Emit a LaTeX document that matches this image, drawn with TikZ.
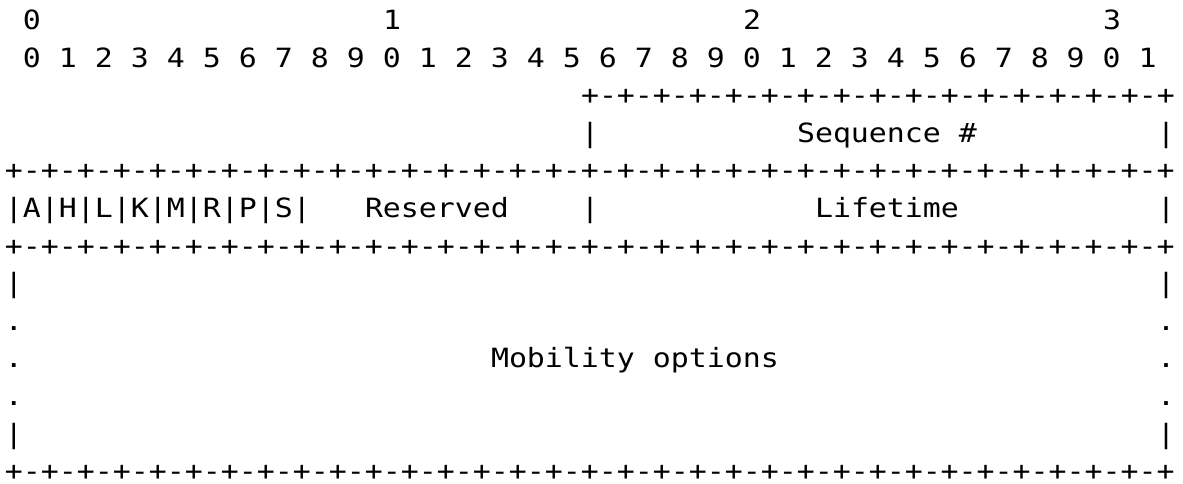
\documentclass[tikz,border=0pt]{standalone}
\usepackage{fontspec}
\newfontfamily\rfcmono[FakeStretch=1.128]{DejaVu Sans Mono}
\def\rfcpp{+-+-+-+-+-+-+-+-}
\tikzset{cell/.style={anchor=base west, inner sep=0pt, outer sep=0pt,
  font=\rfcmono\fontsize{26.5pt}{30pt}\selectfont, text=black}}
\begin{document}
\begin{tikzpicture}
\useasboundingbox[fill=white] (0,0) rectangle (1183pt,-483pt);
\begin{scope}[shift={(5pt,-29.5pt)}, x=18pt, y=-37.6pt]
% row 0
\node[cell] (h0) at (1,0) {0};
\node[cell] (h1) at (21,0) {1};
\node[cell] (h2) at (41,0) {2};
\node[cell] (h3) at (61,0) {3};
% row 1
\node[cell] (bits) at (1,1) {0 1 2 3 4 5 6 7 8 9 0 1 2 3 4 5 6 7 8 9 0 1 2 3 4 5 6 7 8 9 0 1};
% row 2
\node[cell] (r2) at (32,2) {\rfcpp\rfcpp+};
% row 3
\node[cell] (r3a) at (32,3) {|};
\node[cell] (seq) at (44,3) {Sequence \#};
\node[cell] (r3b) at (64,3) {|};
% row 4
\node[cell] (r4) at (0,4) {\rfcpp\rfcpp\rfcpp\rfcpp+};
% row 5
\node[cell] (flags) at (0,5) {|A|H|L|K|M|R|P|S|};
\node[cell] (res) at (20,5) {Reserved};
\node[cell] (r5a) at (32,5) {|};
\node[cell] (life) at (45,5) {Lifetime};
\node[cell] (r5b) at (64,5) {|};
% row 6
\node[cell] (r6) at (0,6) {\rfcpp\rfcpp\rfcpp\rfcpp+};
% row 7
\node[cell] (r7a) at (0,7) {|};
\node[cell] (r7b) at (64,7) {|};
% row 8
\node[cell] (r8a) at (0,8) {.};
\node[cell] (r8b) at (64,8) {.};
% row 9
\node[cell] (r9a) at (0,9) {.};
\node[cell] (mob) at (27,9) {Mobility options};
\node[cell] (r9b) at (64,9) {.};
% row 10
\node[cell] (r10a) at (0,10) {.};
\node[cell] (r10b) at (64,10) {.};
% row 11
\node[cell] (r11a) at (0,11) {|};
\node[cell] (r11b) at (64,11) {|};
% row 12
\node[cell] (r12) at (0,12) {\rfcpp\rfcpp\rfcpp\rfcpp+};
\end{scope}
\end{tikzpicture}
\end{document}
